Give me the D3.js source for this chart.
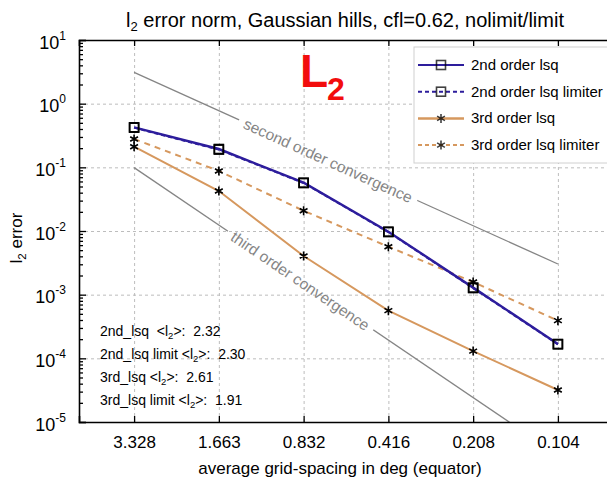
<!DOCTYPE html>
<html><head><meta charset="utf-8">
<script src="https://cdn.jsdelivr.net/npm/d3@7"></script>
<style>
body{margin:0;background:#fff;}
text{font-family:"Liberation Sans",Arial,Helvetica,sans-serif;}
</style></head>
<body><svg id="c" width="607" height="483"></svg>
<script>
const categories = ["3.328","1.663","0.832","0.416","0.208","0.104"];
const lsq2     = [0.425, 0.194, 0.0574, 0.00975, 0.00129, 0.000168];
const lsq2lim  = [0.420, 0.190, 0.0566, 0.00962, 0.00127, 0.000166];
const lsq3     = [0.211, 0.0425, 0.00405, 0.000561, 0.000130, 0.0000318];
const lsq3lim  = [0.279, 0.0877, 0.0208, 0.00567, 0.00158, 0.000391];
const conv2    = [3.1, 0.00303];       // at first / last category
const conv3    = [0.099, 0.00000302];
const yTicks   = [1e1,1e0,1e-1,1e-2,1e-3,1e-4,1e-5];
const yExps    = ["1","0","-1","-2","-3","-4","-5"];
const notes    = [["2nd_lsq  <l","2",">:  2.32"],["2nd_lsq limit <l","2",">:  2.30"],["3rd_lsq <l","2",">:  2.61"],["3rd_lsq limit <l","2",">:  1.91"]];
const legendNames = ["2nd order lsq","2nd order lsq limiter","3rd order lsq","3rd order lsq limiter"];

const BLUE = "#2d1d9c", ORANGE = "#d6985e", GRAY = "#858585";
const svg = d3.select("#c");
const L = 79, R = 613, T = 40, B = 422;

const x = d3.scalePoint().domain(categories).range([L, R]).padding(0.65);
const y = d3.scaleLog().domain([1e-5, 1e1]).range([B, T]);

svg.append("defs").append("clipPath").attr("id","clip")
  .append("rect").attr("x",L).attr("y",T).attr("width",R-L).attr("height",B-T);

const noText = g => g.selectAll(".tick text").remove();

// grid
const grid = svg.append("g");
grid.append("g").attr("transform",`translate(0,${B})`)
  .call(d3.axisBottom(x).tickSize(-(B-T)).tickFormat(""))
  .call(g=>g.select(".domain").remove()).call(noText)
  .selectAll("line").attr("stroke","#bdbdbd").attr("stroke-dasharray","3,3");
grid.append("g").attr("transform",`translate(${L},0)`)
  .call(d3.axisLeft(y).tickValues(yTicks.slice(1,-1)).tickSize(-(R-L)).tickFormat(""))
  .call(g=>g.select(".domain").remove()).call(noText)
  .selectAll("line").attr("stroke","#bdbdbd").attr("stroke-dasharray","3,3");

// convergence lines with text gaps
const step = x.step();
function convLine(vals, label, t, id){
  const x0 = x(categories[0]), x1 = x(categories[categories.length-1]);
  const p0 = [x0, y(vals[0])], p1 = [x1, y(vals[1])];
  const lv = Math.log10(vals[0]) + (Math.log10(vals[1]) - Math.log10(vals[0])) * t/(categories.length-1);
  const cx = x0 + t*step, cy = y(Math.pow(10, lv));
  const ang = Math.atan2(p1[1]-p0[1], p1[0]-p0[0]) * 180/Math.PI;
  const txt = svg.append("text").attr("transform",`translate(${cx},${cy}) rotate(${ang})`)
    .attr("text-anchor","middle").attr("dy","0.38em").attr("font-size",15.5).attr("fill",GRAY).text(label);
  const bb = txt.node().getBBox();
  const mask = svg.select("defs").append("mask").attr("id",id).attr("maskUnits","userSpaceOnUse")
    .attr("x",0).attr("y",0).attr("width",607).attr("height",483);
  mask.append("rect").attr("x",0).attr("y",0).attr("width",607).attr("height",483).attr("fill","#fff");
  mask.append("rect").attr("transform",`translate(${cx},${cy}) rotate(${ang})`)
    .attr("x",bb.x-6).attr("y",bb.y-2).attr("width",bb.width+12).attr("height",bb.height+4).attr("fill","#000");
  svg.append("g").attr("clip-path","url(#clip)").append("path")
    .attr("d", d3.line()([p0,p1])).attr("stroke",GRAY).attr("stroke-width",1.3).attr("fill","none")
    .attr("mask",`url(#${id})`);
}
convLine(conv2, "second order convergence", 2.29, "m2");
convLine(conv3, "third order convergence", 1.964, "m3");

// series
const line = d3.line().x((d,i)=>x(categories[i])).y(d=>y(d));
const plot = svg.append("g").attr("clip-path","url(#clip)");
plot.append("path").attr("d",line(lsq3)).attr("stroke",ORANGE).attr("stroke-width",2).attr("fill","none");
plot.append("path").attr("d",line(lsq3lim)).attr("stroke",ORANGE).attr("stroke-width",2).attr("stroke-dasharray","6,5").attr("fill","none");
plot.append("path").attr("d",line(lsq2)).attr("stroke",BLUE).attr("stroke-width",2.4).attr("fill","none");
plot.append("path").attr("d",line(lsq2lim)).attr("stroke",BLUE).attr("stroke-width",2).attr("stroke-dasharray","4,3").attr("fill","none");

function square(g, cx, cy){
  g.append("rect").attr("x",cx-4.5).attr("y",cy-4.5).attr("width",9).attr("height",9)
   .attr("fill","none").attr("stroke","#000").attr("stroke-width",1.6);
}
function aster(g, cx, cy){
  const r = 4.5, p = [];
  for (const a of [90, 30, -30]) {
    const rad = a*Math.PI/180;
    p.push(`M${cx-r*Math.cos(rad)},${cy-r*Math.sin(rad)}L${cx+r*Math.cos(rad)},${cy+r*Math.sin(rad)}`);
  }
  g.append("path").attr("d",p.join("")).attr("stroke","#000").attr("stroke-width",1.6);
}
const mk = svg.append("g");
lsq2.forEach((v,i)=>square(mk, x(categories[i]), y(v)));
lsq2lim.forEach((v,i)=>square(mk, x(categories[i]), y(v)));
lsq3.forEach((v,i)=>aster(mk, x(categories[i]), y(v)));
lsq3lim.forEach((v,i)=>aster(mk, x(categories[i]), y(v)));

// axes
const ax = svg.append("g");
const yMaj = ax.append("g").attr("transform",`translate(${L},0)`)
  .call(d3.axisLeft(y).tickValues(yTicks).tickSize(-7).tickPadding(13).tickFormat(""));
yMaj.selectAll(".tick text").each(function(d,i){
  const t = d3.select(this).attr("font-size",18).attr("fill","#000").attr("dy","0.45em");
  t.append("tspan").text("10");
  t.append("tspan").attr("font-size",12).attr("dy","-0.75em").text(yExps[i]);
});
const minors = [];
for (let e=-5; e<1; e++) for (let m=2; m<10; m++) minors.push(m*Math.pow(10,e));
ax.append("g").attr("transform",`translate(${L},0)`)
  .call(d3.axisLeft(y).tickValues(minors).tickSize(-4).tickFormat(""))
  .call(g=>g.select(".domain").remove()).call(noText);
ax.append("g").attr("transform",`translate(0,${B})`)
  .call(d3.axisBottom(x).tickSize(-6).tickPadding(14))
  .selectAll(".tick text").attr("font-size",17).attr("fill","#000");
ax.append("g").attr("transform",`translate(0,${T})`)
  .call(d3.axisTop(x).tickSize(-6).tickFormat("")).call(noText);
ax.selectAll(".domain").attr("stroke","#000").attr("stroke-width",1.6);
ax.selectAll(".tick line").attr("stroke","#000").attr("stroke-width",1.3);

// titles
const ttl = svg.append("text").attr("x",345).attr("y",27).attr("text-anchor","middle").attr("font-size",20);
ttl.append("tspan").text("l");
ttl.append("tspan").attr("font-size",13).attr("dy",4).text("2");
ttl.append("tspan").attr("dy",-4).text(" error norm, Gaussian hills, cfl=0.62, nolimit/limit");

const yl = svg.append("text").attr("transform","translate(22,238) rotate(-90)").attr("text-anchor","middle").attr("font-size",17);
yl.append("tspan").text("l");
yl.append("tspan").attr("font-size",11.5).attr("dy",4).text("2");
yl.append("tspan").attr("dy",-4).text(" error");

svg.append("text").attr("x",340).attr("y",474).attr("text-anchor","middle").attr("font-size",17)
  .text("average grid-spacing in deg (equator)");

// L2 label
const l2 = svg.append("text").attr("x",300).attr("y",87).attr("font-weight","bold").attr("fill","#f20d0d");
l2.append("tspan").attr("font-size",46).text("L");
l2.append("tspan").attr("font-size",32).attr("dy",13).attr("dx",-1).text("2");

// notes
notes.forEach((n,i)=>{
  const t = svg.append("text").attr("x",100).attr("y",336+i*23).attr("font-size",14)
    .attr("style","white-space:pre");
  t.append("tspan").text(n[0]);
  t.append("tspan").attr("font-size",9.5).attr("dy",3).text(n[1]);
  t.append("tspan").attr("dy",-3).text(n[2]);
});

// legend
const lg = svg.append("g");
lg.append("rect").attr("x",414).attr("y",47).attr("width",210).attr("height",116)
  .attr("fill","#fff").attr("stroke","#d0d0d0").attr("stroke-width",1);
const lstyles = [
  {c:BLUE, d:null, m:square, w:2.2},
  {c:BLUE, d:"4,3", m:square, w:2},
  {c:ORANGE, d:null, m:aster, w:2.5},
  {c:ORANGE, d:"4,3", m:aster, w:2},
];
legendNames.forEach((nm,i)=>{
  const cy = 65 + i*26.7;
  lg.append("line").attr("x1",418).attr("x2",464).attr("y1",cy).attr("y2",cy)
    .attr("stroke",lstyles[i].c).attr("stroke-width",lstyles[i].w).attr("stroke-dasharray",lstyles[i].d);
  const s = lg.append("g").attr("opacity",0.75);
  lstyles[i].m(s, 441, cy);
  lg.append("text").attr("x",471).attr("y",cy+5).attr("font-size",15).text(nm);
});
</script></body></html>
